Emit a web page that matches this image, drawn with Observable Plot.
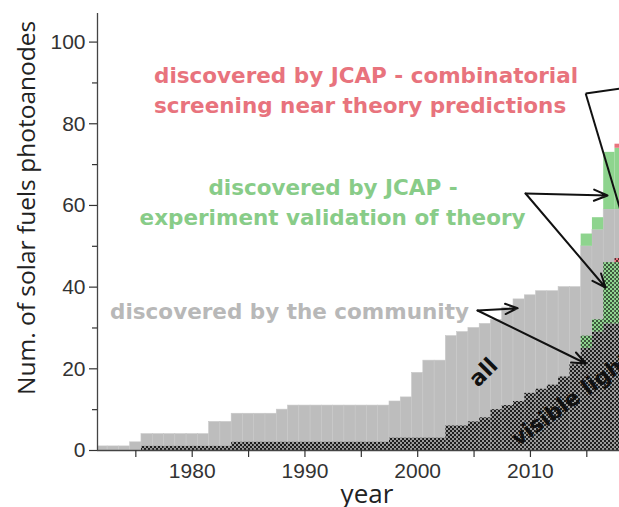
<!DOCTYPE html>
<html><head><meta charset="utf-8">
<script src="https://cdn.jsdelivr.net/npm/d3@7"></script>
<script src="https://cdn.jsdelivr.net/npm/@observablehq/plot@0.6"></script>
<style>
html,body{margin:0;padding:0;background:#fff;overflow:hidden;}
</style></head><body><div id="chart"></div>
<script>
// ---- data (cumulative number of photoanodes per year) ----
const years = [1972,1973,1974,1975,1976,1977,1978,1979,1980,1981,1982,1983,1984,1985,1986,1987,1988,1989,1990,1991,1992,1993,1994,1995,1996,1997,1998,1999,2000,2001,2002,2003,2004,2005,2006,2007,2008,2009,2010,2011,2012,2013,2014,2015,2016,2017,2018];
// "all" photoanodes
const allCommunity = [1,1,1,2, 4,4,4,4,4,4, 7,7, 9,9,9,9, 10, 11,11,11,11,11,11,11,11,11, 12,13, 19,22,22,28,29,30,31,32,35,37, 38,39,39,40,40, 50,54,59,59];
const allTheory    = [0,0,0,0, 0,0,0,0,0,0, 0,0, 0,0,0,0, 0, 0,0,0,0,0,0,0,0,0, 0,0, 0,0,0,0,0,0,0,0,0,0, 0,0,0,0,0, 3,3,14,15];
const allCombi     = [0,0,0,0, 0,0,0,0,0,0, 0,0, 0,0,0,0, 0, 0,0,0,0,0,0,0,0,0, 0,0, 0,0,0,0,0,0,0,0,0,0, 0,0,0,0,0, 0,0,0,1];
// visible-light subset
const visCommunity = [0,0,0,0, 1,1,1,1,1,1, 1,1, 2,2,2,2, 2, 2,2,2,2,2,2,2,2,2, 3,3, 3,3,3,6,6,7,8,10,11,12, 14,15,16,18,21, 25,29,31,31];
const visTheory    = [0,0,0,0, 0,0,0,0,0,0, 0,0, 0,0,0,0, 0, 0,0,0,0,0,0,0,0,0, 0,0, 0,0,0,0,0,0,0,0,0,0, 0,0,0,0,0, 3,3,15,15];
const visCombi     = [0,0,0,0, 0,0,0,0,0,0, 0,0, 0,0,0,0, 0, 0,0,0,0,0,0,0,0,0, 0,0, 0,0,0,0,0,0,0,0,0,0, 0,0,0,0,0, 0,0,0,1];

const yTicks = [0,20,40,60,80,100];
const yMinor = [10,30,50,70,90];
const xTicks = [1980,1990,2000,2010];
const xMinor = [1975,1985,1995,2005,2015];

// annotations
const annLines  = ["discovered by JCAP - combinatorial","screening near theory predictions","discovered by JCAP -","experiment validation of theory","discovered by the community"];
const annColors = ["#e8737d","#e8737d","#88cc88","#88cc88","#b8b8b8"];
const annX = [1995.42,1994.89,1992.49,1992.45,1988.63];
const annY = [91.7,84.4,64.3,57.0,34.0];

const arrowX1 = [2009.57,2009.57,2005.31,2005.31];
const arrowY1 = [62.93,62.93,34.28,34.28];
const arrowX2 = [2016.84,2016.66,2008.87,2014.9];
const arrowY2 = [62.44,39.91,34.84,21.3];
const lineX1 = [2014.9,2014.9];
const lineY1 = [87.4,87.4];
const lineX2 = [2020.92,2020.03];
const lineY2 = [89.76,39.91];

const yTitle = "Num. of solar fuels photoanodes";
const xTitle = "year";

// ---- build stacked rects ----
function stackRows(series) {
  const rows = [];
  years.forEach((yr, i) => {
    let acc = 0;
    for (const s of series) {
      const v = s.vals[i];
      if (v > 0) rows.push({year: yr, y1: acc, y2: acc + v, layer: s.name});
      acc += v;
    }
  });
  return rows;
}
const allRows = stackRows([{name:"c",vals:allCommunity},{name:"t",vals:allTheory},{name:"r",vals:allCombi}]);
const visRows = stackRows([{name:"c",vals:visCommunity},{name:"t",vals:visTheory},{name:"r",vals:visCombi}]);
const rectOpts = (fill, stroke) => ({x1: d => d.year - 0.5, x2: d => d.year + 0.5, y1: "y1", y2: "y2", fill, stroke: stroke ?? "none", strokeWidth: 0.6, clip: true});

const arrows = arrowX1.map((d,i) => ({x1: d, y1: arrowY1[i], x2: arrowX2[i], y2: arrowY2[i]}));
const lines = lineX1.map((d,i) => ({x1: d, y1: lineY1[i], x2: lineX2[i], y2: lineY2[i]}));
const anns = annLines.map((t,i) => ({t, x: annX[i], y: annY[i], c: annColors[i]}));

const tickFont = "Liberation Sans, Arial, sans-serif";
const annFont = "DejaVu Sans";
const svg = Plot.plot({
  width: 619, height: 507,
  marginLeft: 97, marginRight: 0, marginTop: 13, marginBottom: 57,
  style: {background: "#fff", overflow: "hidden"},
  x: {domain: [1971.6, 2017.9]},
  y: {domain: [0, 107]},
  marks: [
    Plot.rect(allRows.filter(d => d.layer === "c"), rectOpts("#bdbdbd", "#c8c8c8")),
    Plot.rect(allRows.filter(d => d.layer === "t"), rectOpts("#8ed48e")),
    Plot.rect(allRows.filter(d => d.layer === "r"), rectOpts("#e8737d")),
    Plot.rect(visRows.filter(d => d.layer === "c"), rectOpts("url(#chkDark)")),
    Plot.rect(visRows.filter(d => d.layer === "t"), rectOpts("url(#chkGreen)")),
    Plot.rect(visRows.filter(d => d.layer === "r"), rectOpts("url(#chkRed)")),
    Plot.ruleY([0], {stroke: "#444", strokeWidth: 1.3}),
    Plot.ruleX([1971.6], {stroke: "#444", strokeWidth: 1.3}),
    Plot.axisY({ticks: yTicks, tickSize: 8, tickPadding: 4, fontSize: 21, fontFamily: tickFont, label: null, color: "#333", strokeWidth: 1.2}),
    Plot.axisY({ticks: yMinor, tickSize: 5, text: null, label: null, color: "#333", strokeWidth: 1.2}),
    Plot.axisX({ticks: xTicks, tickFormat: d => String(d), tickSize: 7, tickPadding: 6, fontSize: 21, fontFamily: tickFont, label: null, color: "#333", strokeWidth: 1.2}),
    Plot.axisX({ticks: xMinor, tickSize: 7, text: null, label: null, color: "#333", strokeWidth: 1.2}),
    Plot.text([yTitle], {x: 1966.1, y: 59.4, rotate: -90, lineAnchor: "bottom", fontSize: 24.5, fontFamily: "Open Sans", fill: "#222"}),
    Plot.text([xTitle], {x: 1995.5, y: -12.8, lineAnchor: "bottom", fontSize: 26, fontFamily: "Open Sans", fill: "#222"}),
    Plot.link(lines, {x1: "x1", y1: "y1", x2: "x2", y2: "y2", stroke: "#111", strokeWidth: 2, clip: true}),
    Plot.arrow(arrows, {x1: "x1", y1: "y1", x2: "x2", y2: "y2", stroke: "#111", strokeWidth: 2, headLength: 11, headAngle: 45}),
    Plot.text(anns, {x: "x", y: "y", text: "t", fill: "c", fontSize: 21.5, fontWeight: "bold", fontFamily: annFont}),
    Plot.text(["all"], {x: 2005.85, y: 19.1, rotate: -45, fontSize: 22, fontWeight: "bold", fontFamily: annFont, fill: "#111"}),
    Plot.text(["visible light"], {x: 2008.9, y: 0.9, rotate: -36, textAnchor: "start", lineAnchor: "bottom", fontSize: 21.5, fontWeight: "bold", fontFamily: annFont, fill: "#111", clip: true})
  ]
});

// checker patterns (visible-light subset)
const defs = d3.select(svg).insert("defs", ":first-child");
function pat(id, base, dot) {
  const p = defs.append("pattern").attr("id", id).attr("width", 4).attr("height", 4).attr("patternUnits", "userSpaceOnUse");
  p.append("rect").attr("width", 4).attr("height", 4).attr("fill", base);
  p.append("rect").attr("width", 2).attr("height", 2).attr("fill", dot);
  p.append("rect").attr("x", 2).attr("y", 2).attr("width", 2).attr("height", 2).attr("fill", dot);
}
pat("chkDark", "#9a9a9a", "#1e1e1e");
pat("chkGreen", "#8ed48e", "#3d5a3d");
pat("chkRed", "#e8737d", "#5a2a2e");
document.getElementById("chart").appendChild(svg);
</script></body></html>
